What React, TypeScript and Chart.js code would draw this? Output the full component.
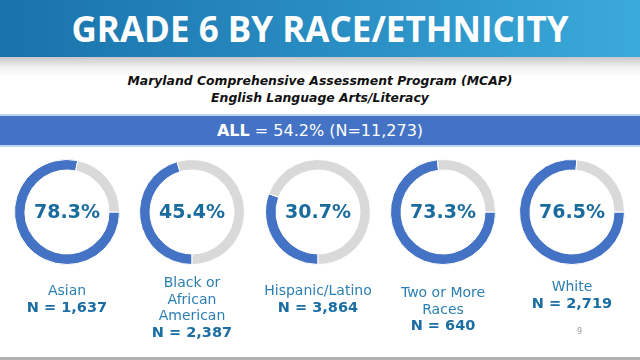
import React, { useEffect, useRef } from "react";
import { Chart, registerables } from "chart.js";
Chart.register(...registerables);

// ---- data ----
const groupNames = ["Asian", "Black or\nAfrican\nAmerican", "Hispanic/Latino", "Two or More\nRaces", "White"];
const proficientPct = [78.3, 45.4, 30.7, 73.3, 76.5];
const groupCounts = ["1,637", "2,387", "3,864", "640", "2,719"];
const overallPct = 54.2;
const overallN = "11,273";
const titleText = "GRADE 6 BY RACE/ETHNICITY";
const subtitleLines = ["Maryland Comprehensive Assessment Program (MCAP)", "English Language Arts/Literacy"];
const pageNumber = "9";

// ---- style / layout ----
const BLUE = "#4472c4";
const GREY = "#d9d9d9";
const PCT_COLOR = "#1a6c9e";
const NAME_COLOR = "#2b7fb2";
const N_COLOR = "#1b6ea3";
const centersX = [67, 192, 318, 443, 572];
const centerY = 212;
const donutSize = 106;
const startAngles = [90, 180, 180, 90, 90];
const labelTops = [282, 274, 282, 284, 278];
const FONT = "'DejaVu Sans', Verdana, sans-serif";

function Donut(props: { value: number; rotation: number; cx: number }) {
  const ref = useRef<HTMLCanvasElement>(null);
  const { value, rotation, cx } = props;
  useEffect(() => {
    const chart = new Chart(ref.current as HTMLCanvasElement, {
      type: "doughnut",
      data: {
        labels: ["Proficient", "Not proficient"],
        datasets: [
          {
            data: [value, Math.round((100 - value) * 10) / 10],
            backgroundColor: [BLUE, GREY],
            borderColor: "#ffffff",
            borderWidth: 1,
          },
        ],
      },
      options: {
        responsive: false,
        animation: false,
        rotation,
        cutout: "80%",
        layout: { padding: 0 },
        plugins: { legend: { display: false }, tooltip: { enabled: false } },
      },
    });
    return () => chart.destroy();
  }, [value, rotation]);
  return (
    <>
      <canvas
        ref={ref}
        width={donutSize}
        height={donutSize}
        style={{ position: "absolute", left: cx - donutSize / 2, top: centerY - donutSize / 2, width: donutSize, height: donutSize }}
      />
      <div
        style={{
          position: "absolute",
          left: cx - 60,
          width: 120,
          top: centerY - 13,
          height: 24,
          lineHeight: "24px",
          textAlign: "center",
          fontFamily: FONT,
          fontWeight: 700,
          fontSize: 19,
          color: PCT_COLOR,
        }}
      >
        {value.toFixed(1)}%
      </div>
    </>
  );
}

export default function App() {
  return (
    <div
      style={{
        position: "fixed",
        left: 0,
        top: 0,
        width: 640,
        height: 360,
        background: "#ffffff",
        overflow: "hidden",
        fontFamily: FONT,
      }}
    >
      {/* title banner */}
      <div
        style={{
          position: "absolute",
          left: 0,
          top: 0,
          width: 640,
          height: 57,
          background: "linear-gradient(90deg, #1a72ab 0%, #2a8fc4 55%, #3aaada 100%)",
        }}
      />
      <div
        style={{
          position: "absolute",
          left: 0,
          top: 57,
          width: 640,
          height: 20,
          background: "linear-gradient(180deg, rgba(0,0,0,0.22) 0%, rgba(0,0,0,0.06) 50%, rgba(0,0,0,0) 100%)",
        }}
      />
      <div
        style={{
          position: "absolute",
          left: 0,
          top: 0,
          width: 640,
          height: 57,
          lineHeight: "57px",
          textAlign: "center",
          color: "#ffffff",
          fontFamily: "'Open Sans', sans-serif",
          fontWeight: 700,
          fontSize: 35,
          whiteSpace: "nowrap",
        }}
      >
        {titleText}
      </div>

      {/* subtitle */}
      {subtitleLines.map((s, i) => (
        <div
          key={i}
          style={{
            position: "absolute",
            left: 0,
            width: 640,
            top: 72 + i * 17,
            height: 17,
            lineHeight: "17px",
            textAlign: "center",
            fontWeight: 700,
            fontStyle: "italic",
            fontSize: 12.4,
            color: "#111111",
            whiteSpace: "nowrap",
          }}
        >
          {s}
        </div>
      ))}

      {/* overall bar */}
      <div
        style={{
          position: "absolute",
          left: 0,
          top: 114,
          width: 640,
          height: 2,
          background: "#bcd6ef",
        }}
      />
      <div
        style={{
          position: "absolute",
          left: 0,
          top: 116,
          width: 640,
          height: 29,
          background: BLUE,
          color: "#ffffff",
          textAlign: "center",
          lineHeight: "29px",
          fontSize: 16,
          whiteSpace: "nowrap",
        }}
      >
        <span style={{ fontWeight: 700 }}>ALL</span> = {overallPct.toFixed(1)}% (N={overallN})
      </div>
      <div
        style={{
          position: "absolute",
          left: 0,
          top: 145,
          width: 640,
          height: 2,
          background: "#bcd6ef",
        }}
      />

      {/* donuts */}
      {proficientPct.map((v, i) => (
        <Donut key={i} value={v} rotation={startAngles[i]} cx={centersX[i]} />
      ))}

      {/* labels */}
      {groupNames.map((name, i) => (
        <div
          key={i}
          style={{
            position: "absolute",
            left: centersX[i] - 65,
            width: 130,
            top: labelTops[i],
            textAlign: "center",
            lineHeight: "16.5px",
          }}
        >
          {name.split("\n").map((ln, j) => (
            <div key={j} style={{ fontSize: 14, color: NAME_COLOR, whiteSpace: "nowrap" }}>
              {ln}
            </div>
          ))}
          <div style={{ fontSize: 14.5, fontWeight: 700, color: N_COLOR, whiteSpace: "nowrap" }}>N = {groupCounts[i]}</div>
        </div>
      ))}

      {/* page number */}
      <div style={{ position: "absolute", left: 577, top: 327, fontSize: 8, color: "#999999" }}>{pageNumber}</div>

      {/* bottom rule */}
      <div style={{ position: "absolute", left: 0, top: 357, width: 640, height: 3, background: "#b0b0b0" }} />
    </div>
  );
}
